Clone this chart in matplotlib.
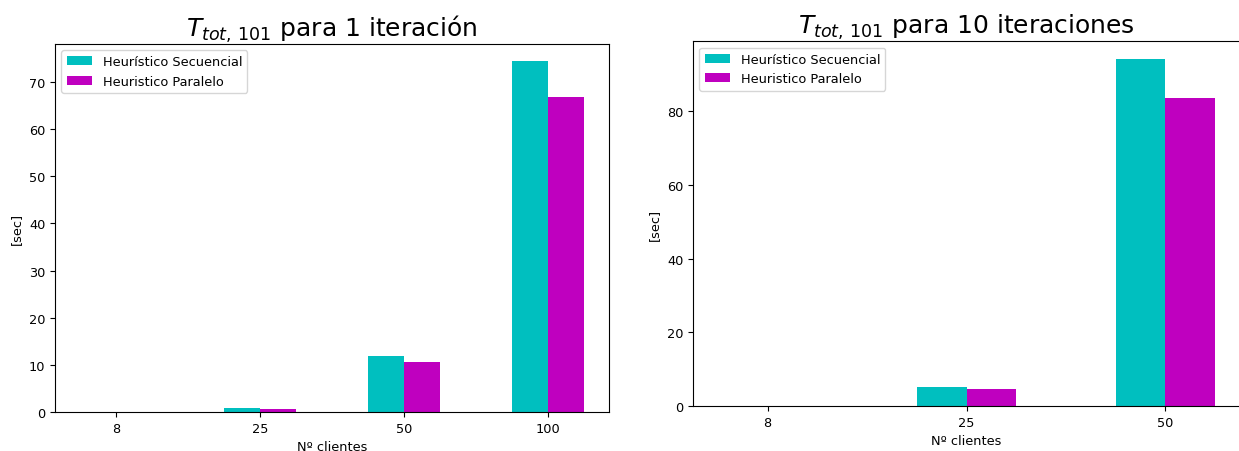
import numpy as np
import matplotlib
matplotlib.use("Agg")
import matplotlib.pyplot as plt

# Execution times (seconds) per number of clients
clientes_1 = ["8", "25", "50", "100"]
secuencial_1 = [0.02, 0.85, 11.9, 74.4]
paralelo_1 = [0.01, 0.6, 10.6, 66.9]

clientes_10 = ["8", "25", "50"]
secuencial_10 = [0.03, 5.1, 94.2]
paralelo_10 = [0.02, 4.7, 83.6]

serie_labels = ["Heurístico Secuencial", "Heuristico Paralelo"]
titulos = [r"$T_{tot,\,101}$ para 1 iteración", r"$T_{tot,\,101}$ para 10 iteraciones"]

plt.rcParams["font.size"] = 9.3

W, H = 1239, 452
fig = plt.figure(figsize=(W / 100, H / 100), dpi=100)

ax1 = fig.add_axes([55 / W, (H - 413) / H, 554 / W, (413 - 44.7) / H])
ax2 = fig.add_axes([693 / W, (H - 407) / H, 547 / W, (407 - 42.3) / H])


def barras(ax, clientes, sec, par, titulo):
    x = np.arange(len(clientes))
    w = 0.25
    ax.bar(x - w / 2, sec, w, color="c", label=serie_labels[0])
    ax.bar(x + w / 2, par, w, color="m", label=serie_labels[1])
    ax.set_xticks(x)
    ax.set_xticklabels(clientes)
    ax.set_xlabel("Nº clientes")
    ax.set_ylabel("[sec]")
    ax.set_title(titulo, fontsize=18)
    ax.legend(loc="upper left")


barras(ax1, clientes_1, secuencial_1, paralelo_1, titulos[0])
barras(ax2, clientes_10, secuencial_10, paralelo_10, titulos[1])

fig.savefig("out.png", dpi=100)
